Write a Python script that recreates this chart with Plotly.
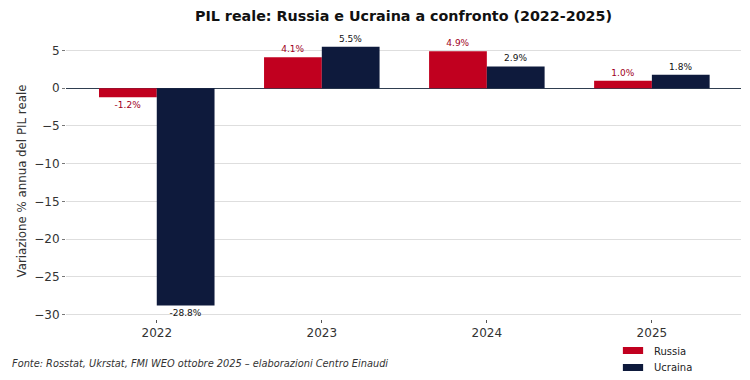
import plotly.graph_objects as go

years = ["2022", "2023", "2024", "2025"]
russia = [-1.2, 4.1, 4.9, 1.0]
ucraina = [-28.8, 5.5, 2.9, 1.8]
russia_labels = ["-1.2%", "4.1%", "4.9%", "1.0%"]
ucraina_labels = ["-28.8%", "5.5%", "2.9%", "1.8%"]
y_ticks = [-30, -25, -20, -15, -10, -5, 0, 5]
series_names = ["Russia", "Ucraina"]
series_colors = ["#C1001F", "#0E1A3C"]

fig = go.Figure()
fig.add_trace(go.Bar(
    x=years, y=russia, name=series_names[0], marker_color=series_colors[0],
    marker_line_width=0,
    text=russia_labels, textposition="outside", cliponaxis=False,
    textfont=dict(family="DejaVu Sans", size=9, color="#A0001C"),
))
fig.add_trace(go.Bar(
    x=years, y=ucraina, name=series_names[1], marker_color=series_colors[1],
    marker_line_width=0,
    text=ucraina_labels, textposition="outside", cliponaxis=False,
    textfont=dict(family="DejaVu Sans", size=9, color="#111111"),
))

fig.update_layout(
    width=750, height=380,
    margin=dict(l=58, r=17, t=35, b=69),
    paper_bgcolor="white", plot_bgcolor="white",
    barmode="group", bargap=0.3, bargroupgap=0,
    font=dict(family="DejaVu Sans", color="#333333"),
    title=dict(text="<b>PIL reale: Russia e Ucraina a confronto (2022-2025)</b>",
               x=0.5, xref="paper", xanchor="center", y=0.979, yanchor="middle",
               font=dict(family="DejaVu Sans", size=14.3, color="#111111")),
    xaxis=dict(range=[-0.55, 3.54], showgrid=False, showline=False,
               ticks="outside", ticklen=3,
               tickcolor="#555555", tickfont=dict(size=12, color="#333333"),
               automargin=False),
    yaxis=dict(range=[-30.6, 6.0], tickvals=y_ticks, showgrid=True,
               gridcolor="#DEDEDE", gridwidth=1, zeroline=True,
               zerolinecolor="#2F3E50", zerolinewidth=1.2,
               ticks="outside", ticklen=3, tickcolor="#777777",
               tickfont=dict(size=12, color="#333333"), automargin=False,
               title=dict(text="Variazione % annua del PIL reale",
                          font=dict(size=11.8, color="#333333"), standoff=5)),
    showlegend=False,
)

# custom legend (wide rectangular swatches)
leg_y = [(-0.1014, -0.1268), (-0.163, -0.1884)]
leg_text_y = [-0.116, -0.174]
for name, col, (y0, y1), ty in zip(series_names, series_colors, leg_y, leg_text_y):
    fig.add_shape(type="rect", xref="paper", yref="paper",
                  x0=0.825, x1=0.855, y0=y1, y1=y0,
                  fillcolor=col, line_width=0)
    fig.add_annotation(text=name, xref="paper", yref="paper",
                       x=0.868, y=ty, xanchor="left", yanchor="middle",
                       showarrow=False,
                       font=dict(family="DejaVu Sans", size=10, color="#222222"))

fig.add_annotation(
    text="<i>Fonte: Rosstat, Ukrstat, FMI WEO ottobre 2025 – elaborazioni Centro Einaudi</i>",
    xref="paper", yref="paper", x=-0.083, y=-0.163, xanchor="left", yanchor="middle",
    showarrow=False, font=dict(family="DejaVu Sans", size=9.8, color="#333333"),
)

fig.write_html("out.html")
